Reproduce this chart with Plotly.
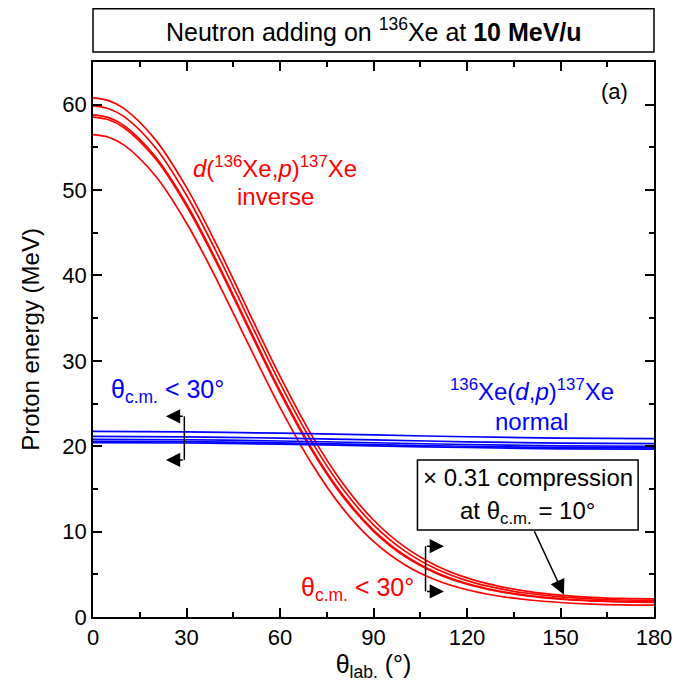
import plotly.graph_objects as go

# ---- data ----
theta_lab = [0, 5, 10, 20, 30, 40, 50, 60, 70, 80, 90, 100, 110, 120, 130, 140, 150, 160, 170, 180]

inverse_1 = [60.80, 60.48, 59.54, 55.91, 50.31, 43.34, 35.72, 28.20, 21.39, 15.73, 11.36, 8.21, 6.04, 4.58, 3.62, 2.98, 2.57, 2.31, 2.17, 2.12]
inverse_2 = [59.85, 59.53, 58.60, 54.98, 49.39, 42.44, 34.86, 27.39, 20.66, 15.08, 10.80, 7.74, 5.65, 4.26, 3.35, 2.75, 2.36, 2.12, 1.99, 1.95]
inverse_3 = [58.80, 58.48, 57.55, 53.94, 48.37, 41.45, 33.92, 26.50, 19.84, 14.36, 10.18, 7.23, 5.23, 3.91, 3.06, 2.50, 2.14, 1.92, 1.80, 1.76]
inverse_4 = [58.55, 58.24, 57.30, 53.69, 48.13, 41.22, 33.69, 26.29, 19.65, 14.18, 10.04, 7.10, 5.13, 3.83, 2.99, 2.45, 2.09, 1.88, 1.76, 1.72]
inverse_5 = [56.50, 56.19, 55.26, 51.67, 46.14, 39.29, 31.84, 24.55, 18.06, 12.78, 8.85, 6.12, 4.33, 3.19, 2.46, 1.99, 1.70, 1.51, 1.42, 1.39]

theta_norm = [0, 30, 60, 90, 120, 150, 180]
normal_1 = [21.74, 21.68, 21.53, 21.32, 21.11, 20.96, 20.90]
normal_2 = [21.16, 21.10, 20.95, 20.74, 20.52, 20.37, 20.31]
normal_3 = [20.81, 20.76, 20.61, 20.41, 20.20, 20.05, 20.00]
normal_4 = [20.58, 20.53, 20.39, 20.19, 20.00, 19.85, 19.80]
normal_5 = [20.43, 20.38, 20.24, 20.04, 19.85, 19.70, 19.65]

x_ticks = [0, 30, 60, 90, 120, 150, 180]
y_ticks = [0, 10, 20, 30, 40, 50, 60]

RED = "#ff0000"
BLUE = "#0000ff"
FONT = "Liberation Sans, Arial, sans-serif"
TS = 24  # annotation text size

fig = go.Figure()
for ys in [inverse_1, inverse_2, inverse_3, inverse_4, inverse_5]:
    fig.add_trace(go.Scatter(x=theta_lab, y=ys, mode="lines",
                             line=dict(color=RED, width=1.7, shape="spline", smoothing=1.0),
                             showlegend=False, hoverinfo="skip"))
for ys in [normal_1, normal_2, normal_3, normal_4, normal_5]:
    fig.add_trace(go.Scatter(x=theta_norm, y=ys, mode="lines",
                             line=dict(color=BLUE, width=1.7, shape="spline", smoothing=1.0),
                             showlegend=False, hoverinfo="skip"))

ann = []
def txt(x, y, text, color="black", size=TS, **kw):
    d = dict(x=x, y=y, xref="x", yref="y", text=text, showarrow=False,
             xanchor="center", yanchor="middle",
             font=dict(family=FONT, size=size, color=color))
    d.update(kw)
    ann.append(d)

txt(167.2, 61.5, "(a)", size=22)
txt(58.5, 52.7, "<i>d</i>(<sup>136</sup>Xe,<i>p</i>)<sup>137</sup>Xe", RED)
txt(58.5, 49.3, "inverse", RED)
txt(140.8, 26.6, "<sup>136</sup>Xe(<i>d</i>,<i>p</i>)<sup>137</sup>Xe", BLUE)
txt(140.8, 22.9, "normal", BLUE)
txt(24.0, 26.5, "θ<sub>c.m.</sub> < 30°", BLUE, size=25)
txt(84.9, 3.3, "θ<sub>c.m.</sub> < 30°", RED, size=25)
txt(139.5, 16.3, "× 0.31 compression")
txt(139.5, 12.2, "at θ<sub>c.m.</sub> = 10°")

# title box text
ann.append(dict(x=0.5, y=1.057, xref="paper", yref="paper", showarrow=False,
                xanchor="center", yanchor="middle",
                text="Neutron adding on <sup>136</sup>Xe at <b>10 MeV/u</b>",
                font=dict(family=FONT, size=25, color="black")))

# arrows
def arrow(x0, y0, x1, y1, size=1.9):
    ann.append(dict(x=x1, y=y1, ax=x0, ay=y0, xref="x", yref="y", axref="x", ayref="y",
                    text="", showarrow=True, arrowhead=2, arrowsize=size, arrowwidth=1.5,
                    arrowcolor="black", standoff=0))

# blue bracket (pointing left)
arrow(29.3, 23.5, 23.4, 23.5)
arrow(29.3, 18.4, 23.4, 18.4)
# red bracket (pointing right)
arrow(106.7, 8.3, 112.6, 8.3)
arrow(106.7, 3.0, 112.6, 3.0)
# compression arrow
arrow(141.4, 10.2, 151.1, 2.6, size=2.0)

shapes = [
    dict(type="line", xref="x", yref="y", x0=29.3, x1=29.3, y0=23.5, y1=18.4,
         line=dict(color="black", width=1.5)),
    dict(type="line", xref="x", yref="y", x0=106.7, x1=106.7, y0=8.3, y1=3.0,
         line=dict(color="black", width=1.5)),
    dict(type="rect", xref="x", yref="y", x0=104.1, x1=174.9, y0=10.2, y1=18.4,
         line=dict(color="black", width=1.5), fillcolor="white", layer="above"),
    dict(type="rect", xref="paper", yref="paper", x0=0, x1=1, y0=1.018, y1=1.096,
         line=dict(color="black", width=1.5), fillcolor="white"),
]

axis_common = dict(showline=True, linecolor="black", linewidth=1.5, mirror="ticks",
                   ticks="inside", ticklen=9, tickwidth=1.5, tickcolor="black",
                   showgrid=False, zeroline=False,
                   tickfont=dict(family=FONT, size=22, color="black"))

fig.update_layout(
    width=677, height=678,
    margin=dict(l=85, r=31, t=54, b=62),
    plot_bgcolor="white", paper_bgcolor="white",
    annotations=ann, shapes=shapes,
    xaxis=dict(range=[0, 180], tickvals=x_ticks,
               minor=dict(dtick=15, ticks="inside", ticklen=5, tickwidth=1.5, tickcolor="black"),
               title=dict(text="θ<sub>lab.</sub> (°)", font=dict(family=FONT, size=25, color="black"),
                          standoff=6),
               **axis_common),
    yaxis=dict(range=[0, 65], tickvals=y_ticks,
               minor=dict(dtick=5, ticks="inside", ticklen=5, tickwidth=1.5, tickcolor="black"),
               title=dict(text="Proton energy (MeV)", font=dict(family=FONT, size=24, color="black"),
                          standoff=16),
               **axis_common),
)

fig.write_html("out.html")
